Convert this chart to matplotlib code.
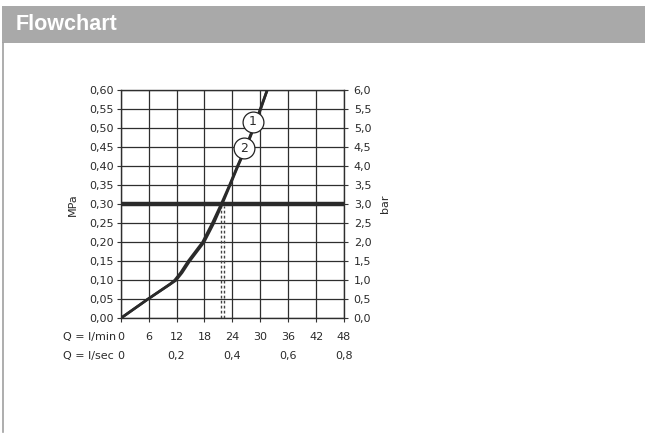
import matplotlib
matplotlib.use("Agg")
import matplotlib.pyplot as plt
from matplotlib.patches import Rectangle
from matplotlib.lines import Line2D
from matplotlib.ticker import MultipleLocator

# ---- data ----
pressure_mpa = [0.00, 0.05, 0.09, 0.10, 0.12, 0.15, 0.20, 0.25, 0.30, 0.35, 0.40, 0.45, 0.50, 0.55, 0.60]
flow_curve1 = [0.0, 5.8, 10.7, 11.9, 13.2, 14.8, 17.9, 20.0, 21.8, 23.5, 25.2, 27.0, 28.6, 30.1, 31.5]
flow_curve2 = [0.0, 5.8, 10.6, 11.6, 12.9, 14.5, 17.6, 19.7, 21.6, 23.4, 25.1, 26.9, 28.5, 30.0, 31.5]
curve_labels = ["1", "2"]
label_flow = [28.4, 26.6]
label_press = [0.517, 0.447]
ref_pressure = 0.30
ref_flows = [21.6, 22.1]
lmin_ticks = [0, 6, 12, 18, 24, 30, 36, 42, 48]
lsec_ticks = ["0", "0,2", "0,4", "0,6", "0,8"]
lsec_pos = [0, 12, 24, 36, 48]
mpa_ticks = [i * 0.05 for i in range(13)]
bar_ticks = [i * 0.5 for i in range(13)]

W, H = 645, 442
TXT = "#2a2a2a"
fig = plt.figure(figsize=(W / 100, H / 100), dpi=100)
fig.patch.set_facecolor("white")

# header band
fig.patches.append(Rectangle((2 / W, 1 - 43 / H), 1 - 2 / W, 37 / H, transform=fig.transFigure,
                             facecolor="#a9a9a9", edgecolor="none", zorder=0))
fig.text(16 / W, 1 - 25 / H, "Flowchart", color="white", fontsize=15.5, fontweight="bold",
         family="Liberation Sans", va="center", ha="left")
fig.lines.append(Line2D([3 / W, 3 / W], [1 - 43 / H, 1 - 432 / H], transform=fig.transFigure,
                        color="#a0a0a0", lw=1.2))

ax = fig.add_axes([120.7 / W, 1 - 318.3 / H, 223.3 / W, 228.3 / H])
ax.set_xlim(0, 48)
ax.set_ylim(0, 0.6)
ax.grid(True, color="#2e2e2e", lw=0.9)
ax.set_axisbelow(True)
for s in ax.spines.values():
    s.set_color("#2e2e2e")
    s.set_linewidth(1.0)

fs = 8
ax.set_yticks(mpa_ticks)
ax.set_yticklabels([f"{v:.2f}".replace(".", ",") for v in mpa_ticks], fontsize=fs, color=TXT)
ax.set_xticks(lmin_ticks)
ax.set_xticklabels([])
ax.tick_params(axis="both", length=3, width=0.8, color="#333333", pad=2)
ax.set_ylabel("MPa", fontsize=fs, color=TXT, labelpad=8)

ax2 = ax.twinx()
ax2.set_ylim(0, 6)
ax2.set_yticks(bar_ticks)
ax2.set_yticklabels([f"{v:.1f}".replace(".", ",") for v in bar_ticks], fontsize=fs, color=TXT)
ax2.tick_params(axis="y", length=3, width=0.8, color="#333333", pad=4)
ax2.set_ylabel("bar", fontsize=fs, color=TXT, labelpad=6)
for s in ax2.spines.values():
    s.set_visible(False)

# reference lines
ax.axhline(ref_pressure, color="#2a2a2a", lw=3.2, zorder=3)
for q in ref_flows:
    ax.plot([q, q], [0, ref_pressure - 0.005], color="#444444", lw=1.0, dashes=(2, 1.6), zorder=2)

# curves
ax.plot(flow_curve2, pressure_mpa, color="#2a2a2a", lw=1.9, zorder=4, solid_capstyle="butt")
ax.plot(flow_curve1, pressure_mpa, color="#2a2a2a", lw=1.9, zorder=4, solid_capstyle="butt")

for lab, q, p in zip(curve_labels, label_flow, label_press):
    ax.plot([q], [p], marker="o", ms=15, mfc="white", mec="#222222", mew=0.9, zorder=5)
    ax.text(q, p, lab, ha="center", va="center", fontsize=9, color=TXT, zorder=6)

# bottom labels
tr = ax.get_xaxis_transform()
row1 = -19 / 228.3
row2 = -38 / 228.3
for v in lmin_ticks:
    ax.text(v, row1, str(v), transform=tr, ha="center", va="center", fontsize=fs, color=TXT)
for v, lab in zip(lsec_pos, lsec_ticks):
    ax.text(v, row2, lab, transform=tr, ha="center", va="center", fontsize=fs, color=TXT)
fig.text(62.7 / W, 1 - 337 / H, "Q = l/min", ha="left", va="center", fontsize=fs, color=TXT)
fig.text(62.7 / W, 1 - 356 / H, "Q = l/sec", ha="left", va="center", fontsize=fs, color=TXT)

fig.savefig("out.png", dpi=100, facecolor="white")
